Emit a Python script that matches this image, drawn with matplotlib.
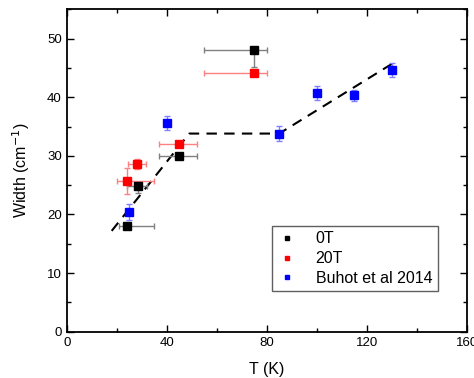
import numpy as np
import matplotlib.pyplot as plt
from matplotlib.ticker import MultipleLocator

plt.rcParams['font.family'] = ['Liberation Sans', 'DejaVu Sans']

# 0T
t0 = [24, 28.5, 45, 75]
w0 = [18, 24.8, 30, 48]
t0_lo = [3, 4.5, 8, 20]
t0_hi = [11, 3.5, 7, 5]
w0_lo = [0, 1.1, 0, 2.9]
w0_hi = [0, 0, 0, 0]

# 20T
t20 = [24, 28, 45, 75]
w20 = [25.7, 28.6, 32, 44.2]
t20_lo = [4, 3.6, 8, 20]
t20_hi = [11, 3.7, 7, 5]
w20_err = [2.2, 0.9, 0, 0]

# Buhot et al 2014
tb = [25, 40, 85, 100, 115, 130]
wb = [20.4, 35.6, 33.8, 40.7, 40.3, 44.7]
wb_err = [1.3, 1.25, 1.25, 1.2, 1.0, 1.2]

# guide line
tg = [18, 49, 85, 130.5]
wg = [17.2, 33.8, 33.8, 45.8]

fig = plt.figure(figsize=(4.74, 3.78), dpi=100)
ax = fig.add_axes([66.7 / 474, 1 - 331.7 / 378, 400 / 474, 322.4 / 378])

ax.plot(tg, wg, '--', color='black', lw=1.5, dashes=(5, 3.5), zorder=2)

ax.errorbar(t0, w0, xerr=[t0_lo, t0_hi], yerr=[w0_lo, w0_hi], fmt='none',
            ecolor='#808080', elinewidth=1, capsize=2.5, zorder=3)
ax.errorbar(t20, w20, xerr=[t20_lo, t20_hi], yerr=w20_err, fmt='none',
            ecolor='#ff8080', elinewidth=1, capsize=2.5, zorder=3)
ax.errorbar(tb, wb, yerr=wb_err, fmt='none',
            ecolor='#8080ff', elinewidth=1, capsize=2.5, zorder=3)

ax.plot(t0, w0, 's', color='black', ms=5.5, ls='none', label='0T', zorder=4)
ax.plot(t20, w20, 's', color='red', ms=5.5, ls='none', label='20T', zorder=4)
ax.plot(tb, wb, 's', color='blue', ms=5.5, ls='none', label='Buhot et al 2014', zorder=4)

ax.set_xlim(0, 160)
ax.set_ylim(0, 55)
ax.xaxis.set_major_locator(MultipleLocator(40))
ax.xaxis.set_minor_locator(MultipleLocator(20))
ax.yaxis.set_major_locator(MultipleLocator(10))
ax.yaxis.set_minor_locator(MultipleLocator(5))
ax.tick_params(which='both', direction='in', top=True, right=True, labelsize=9.5)
ax.tick_params(which='major', length=5, width=1)
ax.tick_params(which='minor', length=3, width=1)
for s in ax.spines.values():
    s.set_linewidth(1.3)

ax.set_xlabel('T (K)', fontsize=11.5, labelpad=10)
ax.set_ylabel('Width (cm$^{-1}$)', fontsize=11.5, labelpad=11)

leg = ax.legend(loc='lower right', bbox_to_anchor=(0.948, 0.1), fancybox=False,
                edgecolor='#606060', framealpha=1, fontsize=11.5, handlelength=1.2,
                handletextpad=1.2, labelspacing=0.3, borderpad=0.35,
                markerscale=0.65)
leg.get_frame().set_linewidth(1)

fig.savefig('out.png', dpi=100)
